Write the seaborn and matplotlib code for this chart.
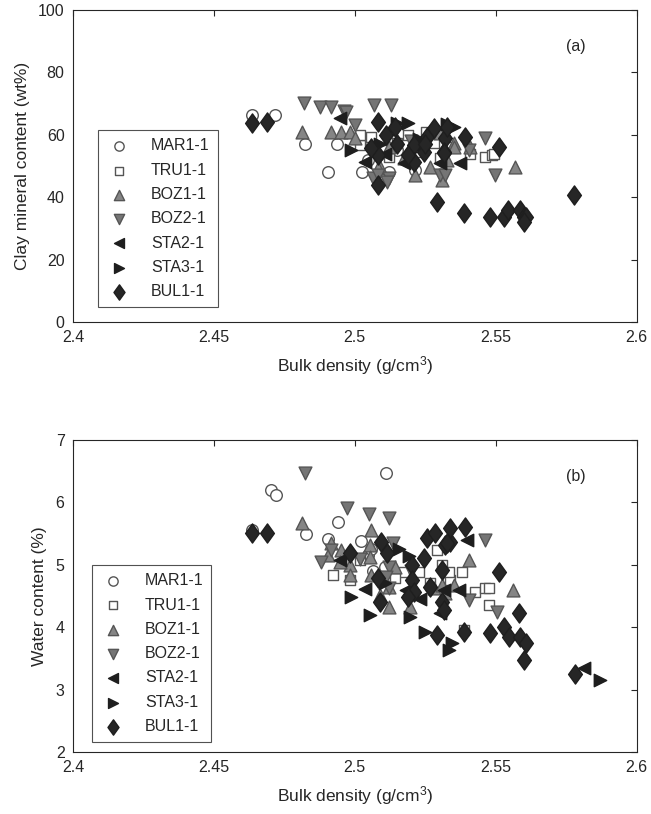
import numpy as np
import pandas as pd
import matplotlib
matplotlib.use("Agg")
import matplotlib.pyplot as plt
from matplotlib.path import Path
import seaborn as sns

sns.set_style("white")
plt.rcParams['font.family'] = ['Liberation Sans', 'DejaVu Sans']
plt.rcParams['mathtext.default'] = 'regular'

samples = ["MAR1-1", "TRU1-1", "BOZ1-1", "BOZ2-1", "STA2-1", "STA3-1", "BUL1-1"]

# ---- panel (a): bulk density vs clay mineral content ----
mar_bd_a = [2.4634, 2.4718, 2.4824, 2.4905, 2.4937, 2.5025, 2.5081, 2.5123, 2.5056, 2.5151, 2.5215, 2.5046]
mar_clay = [66.2, 66.2, 57.0, 48.0, 57.0, 48.0, 53.5, 48.1, 57.6, 55.0, 48.6, 52.0]
tru_bd_a = [2.5018, 2.5018, 2.5056, 2.5151, 2.5187, 2.5282, 2.5229, 2.5123, 2.5252, 2.5338, 2.5408, 2.5461, 2.5486, 2.5493, 2.5303, 2.5095]
tru_clay = [56.7, 59.9, 59.3, 57.4, 59.9, 57.4, 54.5, 53.0, 61.0, 56.0, 54.0, 53.0, 53.5, 54.0, 52.5, 55.0]
boz1_bd_a = [2.4813, 2.4915, 2.4951, 2.4982, 2.5088, 2.5123, 2.5215, 2.5268, 2.5327, 2.531, 2.5352, 2.5352, 2.5408, 2.5567, 2.5303, 2.5081, 2.5, 2.5176]
boz1_clay = [60.9, 60.9, 60.9, 61.0, 49.7, 56.1, 47.1, 49.7, 51.9, 45.5, 57.4, 56.1, 56.1, 49.7, 60.5, 49.4, 59.0, 52.5]
boz2_bd_a = [2.482, 2.4877, 2.4915, 2.4961, 2.4968, 2.5067, 2.5127, 2.5063, 2.5123, 2.5081, 2.5115, 2.5303, 2.532, 2.5405, 2.5461, 2.5496, 2.5, 2.52]
boz2_clay = [70.2, 69.0, 69.0, 67.6, 67.3, 69.6, 69.6, 46.2, 46.2, 47.1, 44.9, 47.1, 47.1, 55.0, 59.0, 47.1, 63.0, 58.0]
sta2_bd_a = [2.4947, 2.5035, 2.5176, 2.5303, 2.5373, 2.5106, 2.524]
sta2_clay = [65.4, 51.3, 51.0, 51.0, 51.0, 54.0, 55.5]
sta3_bd_a = [2.4986, 2.515, 2.5187, 2.5327, 2.5352, 2.5088, 2.5229]
sta3_clay = [55.1, 63.8, 63.8, 63.5, 62.5, 57.0, 58.5]
bul_bd_a = [2.4634, 2.4687, 2.5081, 2.5109, 2.5141, 2.5211, 2.5246, 2.5257, 2.5282, 2.532, 2.5327,
            2.5317, 2.5211, 2.5187, 2.5081, 2.5056, 2.5081, 2.5391, 2.5317, 2.5511, 2.5292, 2.5387,
            2.5479, 2.5528, 2.5542, 2.5585, 2.5599, 2.5609, 2.5599, 2.5778, 2.515, 2.525]
bul_clay = [63.8, 64.1, 64.1, 59.9, 62.5, 56.7, 54.5, 59.3, 62.2, 59.0, 62.5,
            54.5, 51.3, 53.5, 53.5, 55.8, 43.9, 59.3, 54.2, 56.1, 38.5, 34.9,
            33.7, 33.7, 35.9, 35.9, 33.7, 33.7, 32.1, 40.7, 57.0, 57.0]

# ---- panel (b): bulk density vs water content ----
mar_bd_b = [2.4634, 2.4704, 2.4722, 2.4827, 2.4905, 2.494, 2.5021, 2.5046, 2.5056, 2.5106, 2.5063, 2.5109]
mar_water = [5.55, 6.2, 6.12, 5.5, 5.42, 5.68, 5.38, 5.16, 5.25, 4.96, 4.9, 6.47]
tru_bd_b = [2.4923, 2.4982, 2.5018, 2.5292, 2.5176, 2.5268, 2.5338, 2.531, 2.5229, 2.5144, 2.538, 2.5335, 2.5426, 2.5461, 2.5475, 2.5475, 2.5387]
tru_water = [4.84, 4.76, 5.08, 5.24, 4.88, 4.71, 4.76, 5.0, 4.88, 4.79, 4.88, 4.88, 4.56, 4.63, 4.63, 4.36, 3.96]
boz1_bd_b = [2.4813, 2.5056, 2.4915, 2.4951, 2.4982, 2.5053, 2.4905, 2.4947, 2.5053, 2.4982, 2.5056, 2.5141,
             2.5123, 2.5088, 2.5123, 2.5282, 2.531, 2.532, 2.5405, 2.5563, 2.5352, 2.5197]
boz1_water = [5.67, 5.56, 5.35, 5.23, 5.0, 5.32, 5.15, 5.05, 5.12, 4.84, 4.84, 4.96,
              4.64, 4.51, 4.32, 4.62, 4.68, 4.54, 5.08, 4.6, 4.67, 4.32]
boz2_bd_b = [2.4824, 2.4972, 2.5049, 2.5123, 2.488, 2.4915, 2.5134, 2.5123, 2.5123, 2.5109, 2.5405, 2.5461, 2.5504, 2.5018, 2.52]
boz2_water = [6.47, 5.91, 5.81, 5.75, 5.04, 5.23, 5.35, 4.96, 4.62, 4.8, 4.44, 5.4, 4.24, 5.1, 4.9]
sta2_bd_b = [2.4947, 2.5035, 2.518, 2.5232, 2.5317, 2.537, 2.5398, 2.5303, 2.5813]
sta2_water = [5.08, 4.61, 4.6, 4.45, 4.6, 4.6, 5.4, 4.23, 3.35]
sta3_bd_b = [2.4986, 2.5053, 2.5158, 2.5194, 2.5197, 2.525, 2.5345, 2.5335, 2.5106, 2.587]
sta3_water = [4.48, 4.2, 5.26, 5.14, 4.16, 3.92, 3.75, 3.63, 4.7, 3.15]
bul_bd_b = [2.4634, 2.4687, 2.4982, 2.5092, 2.5116, 2.5081, 2.5088, 2.5257, 2.5285, 2.532, 2.5338,
            2.5246, 2.5204, 2.5204, 2.5211, 2.5268, 2.531, 2.531, 2.5317, 2.5187, 2.5338, 2.5391,
            2.5511, 2.5581, 2.5327, 2.5479, 2.5528, 2.5546, 2.5585, 2.5609, 2.5599, 2.5292, 2.5387, 2.578]
bul_water = [5.51, 5.51, 5.19, 5.37, 5.19, 4.79, 4.4, 5.43, 5.51, 5.32, 5.37,
             5.11, 5.0, 4.76, 4.56, 4.64, 4.92, 4.4, 4.28, 4.48, 5.59, 5.6,
             4.88, 4.23, 5.35, 3.9, 4.0, 3.84, 3.84, 3.75, 3.47, 3.87, 3.92, 3.25]

x_ticks = [2.4, 2.45, 2.5, 2.55, 2.6]
x_ticklabels = ["2.4", "2.45", "2.5", "2.55", "2.6"]
clay_ticks = [0, 20, 40, 60, 80, 100]
water_ticks = [2, 3, 4, 5, 6, 7]

panel_a = [(mar_bd_a, mar_clay), (tru_bd_a, tru_clay), (boz1_bd_a, boz1_clay), (boz2_bd_a, boz2_clay),
           (sta2_bd_a, sta2_clay), (sta3_bd_a, sta3_clay), (bul_bd_a, bul_clay)]
panel_b = [(mar_bd_b, mar_water), (tru_bd_b, tru_water), (boz1_bd_b, boz1_water), (boz2_bd_b, boz2_water),
           (sta2_bd_b, sta2_water), (sta3_bd_b, sta3_water), (bul_bd_b, bul_water)]

# MATLAB-like diamond: a little taller than wide
diamond = Path([(0, 1), (0.72, 0), (0, -1), (-0.72, 0), (0, 1)],
               [Path.MOVETO, Path.LINETO, Path.LINETO, Path.LINETO, Path.CLOSEPOLY])

markers = ["o", "s", "^", "v", "<", ">", diamond]
faces = ["white", "white", "#858585", "#757575", "#1e1e1e", "#1e1e1e", "#262626"]
edges = ["#555555", "#555555", "#555555", "#555555", "#1e1e1e", "#1e1e1e", "#1e1e1e"]
sizes = [70, 55, 85, 85, 80, 80, 190]

fig = plt.figure(figsize=(6.51, 8.14), dpi=100)
ax1 = fig.add_axes([0.112, 0.6044, 0.866, 0.3833])
ax2 = fig.add_axes([0.112, 0.0762, 0.866, 0.3833])


def draw(ax, panel, ylab, yticks, tag, leg_anchor):
    for i, (xs, ys) in enumerate(panel):
        df = pd.DataFrame({"x": xs, "y": ys})
        sns.scatterplot(data=df, x="x", y="y", ax=ax, marker=markers[i], color=faces[i],
                        edgecolor=edges[i], linewidth=1.0, label=samples[i], zorder=3,
                        s=sizes[i])
    ax.set_xlim(2.4, 2.6)
    ax.set_ylim(yticks[0], yticks[-1])
    ax.set_xticks(x_ticks)
    ax.set_xticklabels(x_ticklabels)
    ax.set_yticks(yticks)
    ax.set_yticklabels([str(t) for t in yticks])
    ax.tick_params(direction="in", length=4, width=0.8, top=True, right=True,
                   labelsize=11.5, colors="#262626", pad=6)
    for sp in ax.spines.values():
        sp.set_color("#262626")
        sp.set_linewidth(0.8)
        sp.set_visible(True)
    ax.set_xlabel("Bulk density (g/cm$^3$)", fontsize=12.5, color="#262626", labelpad=6)
    ax.set_ylabel(ylab, fontsize=12.5, color="#262626", labelpad=6)
    ax.text(0.875, 0.87, tag, transform=ax.transAxes, fontsize=11.5, color="#262626")
    leg = ax.legend(loc="lower left", bbox_to_anchor=leg_anchor, frameon=True, fancybox=False,
                    fontsize=11.5, handletextpad=1.2, labelspacing=0.58, borderpad=0.5,
                    handlelength=1.6, borderaxespad=0, markerscale=0.8)
    leg.get_frame().set_edgecolor("#262626")
    leg.get_frame().set_linewidth(0.8)
    for t in leg.get_texts():
        t.set_color("#262626")


draw(ax1, panel_a, "Clay mineral content (wt%)", clay_ticks, "(a)", (0.045, 0.048))
draw(ax2, panel_b, "Water content (%)", water_ticks, "(b)", (0.034, 0.032))

fig.savefig("out.png", dpi=100)
